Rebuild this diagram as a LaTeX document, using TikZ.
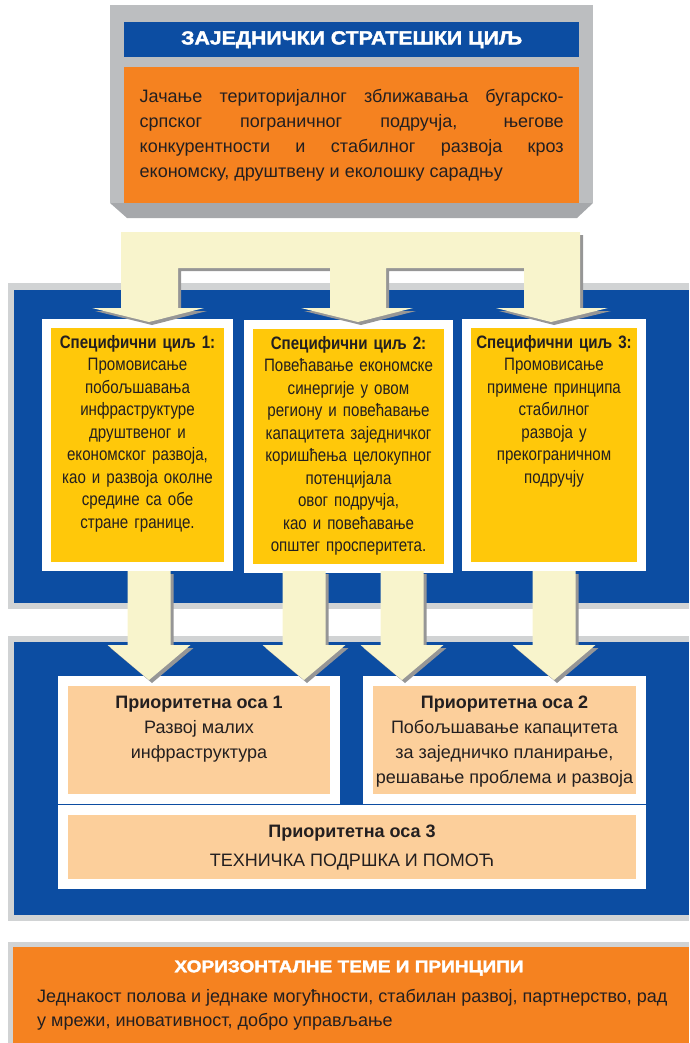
\documentclass[tikz,border=0pt]{standalone}
\usepackage{fontspec}
\setmainfont{Liberation Sans}
\newfontfamily\narrowfont{Liberation Sans}[FakeStretch=0.84]
\newfontfamily\heavyfont{Liberation Sans Bold}[FakeStretch=1.12,FakeBold=2]
\usetikzlibrary{positioning}

\definecolor{planblue}{RGB}{12,77,162}
\definecolor{planorange}{RGB}{245,130,32}
\definecolor{framegray}{RGB}{188,190,192}
\definecolor{bevelgray}{RGB}{166,168,171}
\definecolor{bordergray}{RGB}{209,211,212}
\definecolor{goalyellow}{RGB}{255,200,10}
\definecolor{peach}{RGB}{252,207,155}
\definecolor{arrowcream}{RGB}{248,244,204}
\definecolor{arrowshade}{RGB}{150,150,150}
\definecolor{inkdark}{RGB}{35,31,32}

\tikzset{
  goal/.style={fill=goalyellow, draw=white, line width=9pt, inner sep=0, outer sep=0},
  goaltext/.style={align=center, inner sep=0, text=inkdark,
    font=\narrowfont\fontsize{18}{22.5}\selectfont},
  priority/.style={fill=peach, draw=white, line width=10pt, inner sep=0, outer sep=0},
  prioritytext/.style={align=center, inner sep=0, text=inkdark,
    font=\fontsize{18}{25}\selectfont},
}

\begin{document}
\begin{tikzpicture}[x=1pt,y=1pt]
\useasboundingbox (0,0) rectangle (689,-1043);

% common strategic goal
\fill[framegray] (110,-5) rectangle (593,-203);
\fill[bevelgray] (110,-203) -- (593,-203) -- (577,-218) -- (127,-218) -- cycle;
\node[fill=planblue, minimum width=455, minimum height=35, inner sep=0, anchor=north west, text=white] (head) at (124,-22) {\heavyfont\fontsize{19}{20}\selectfont ЗАЈЕДНИЧКИ СТРАТЕШКИ ЦИЉ};
\node[fill=planorange, minimum width=455, minimum height=136, inner sep=0, anchor=north west, text=inkdark, text width=424, align=justify, font=\fontsize{18}{25}\selectfont] (aim) at (124,-67) {Јачање територијалног зближавања бугарско-\linebreak српског пограничног подручја, његове\linebreak конкурентности и стабилног развоја кроз\linebreak економску, друштвену и еколошку сарадњу\par};

% panels
\fill[bordergray] (8,-283) rectangle (689,-609);
\fill[planblue] (14,-290) rectangle (689,-603);
\fill[bordergray] (8,-636) rectangle (689,-921);
\fill[planblue] (14,-642) rectangle (689,-915);
\fill[bordergray] (8,-942) rectangle (689,-1043);
\fill[planorange] (13,-947) rectangle (689,-1043);

% specific goals
\node[goal, minimum width=182, minimum height=243] (g1) at (137.5,-445) {};
\node[goal, minimum width=200, minimum height=244] (g2) at (348.5,-446.5) {};
\node[goal, minimum width=175, minimum height=243] (g3) at (554,-445) {};

\node[goaltext, text width=171, below=11.5pt of g1.north] (g1t) {\textbf{Специфични циљ 1:}\\Промовисање\\побољшавања\\инфраструктуре\\друштвеног и\\економског развоја,\\као и развоја околне\\средине са обе\\стране границе.};
\node[goaltext, text width=189, below=11.5pt of g2.north] (g2t) {\textbf{Специфични циљ 2:}\\Повећавање економске\\синергије у овом\\региону и повећавање\\капацитета заједничког\\коришћења целокупног\\потенцијала\\овог подручја,\\као и повећавање\\општег просперитета.};
\node[goaltext, text width=166, below=11.5pt of g3.north] (g3t) {\textbf{Специфични циљ 3:}\\Промовисање\\примене принципа\\стабилног\\развоја у\\прекограничном\\подручју};

% branching arrow
\foreach \s/\c in {3/arrowshade, 0/arrowcream}
  \fill[\c, shift={(\s,-\s)}] (121,-232) -- (580,-232) -- (580,-308) -- (608,-308) -- (551,-322) -- (496,-308)
    -- (524,-308) -- (524,-268) -- (386,-268) -- (386,-308) -- (413,-308) -- (358,-322) -- (301,-308)
    -- (330,-308) -- (330,-268) -- (178,-268) -- (178,-308) -- (204,-308) -- (149,-322) -- (92,-308)
    -- (121,-308) -- cycle;

% priority axes
\node[priority, minimum width=272, minimum height=118] (pa1) at (199,-740) {};
\node[priority, minimum width=273, minimum height=118] (pa2) at (504.5,-740) {};
\node[priority, minimum width=578, minimum height=74] (pa3) at (352,-847) {};

\node[prioritytext, below=15pt of pa1.north] (pa1t) {\textbf{Приоритетна оса 1}\\Развој малих\\инфраструктура};
\node[prioritytext, below=15pt of pa2.north] (pa2t) {\textbf{Приоритетна оса 2}\\Побољшавање капацитета\\за заједничко планирање,\\решавање проблема и развоја};
\node[prioritytext, font=\fontsize{18}{29}\selectfont] (pa3t) at (pa3) {\textbf{Приоритетна оса 3}\\ТЕХНИЧКА ПОДРШКА И ПОМОЋ};

% arrows to priority axes
\foreach \t in {149,304,402,554}
  \foreach \s/\c in {3/arrowshade, 0/arrowcream}
    \fill[\c, shift={(\s,-\s)}] (\t-21.5,-571) -- (\t+21.5,-571) -- (\t+21.5,-645) -- (\t+41.5,-645)
      -- (\t,-680) -- (\t-41.5,-645) -- (\t-21.5,-645) -- cycle;

% horizontal themes
\node[text=white, inner sep=0, font=\heavyfont\fontsize{17}{20}\selectfont] (hz) at (349,-968) {ХОРИЗОНТАЛНЕ ТЕМЕ И ПРИНЦИПИ};
\node[anchor=north west, inner sep=0, text=inkdark, align=left, font=\fontsize{18}{24}\selectfont] (hzt) at (37,-989) {Једнакост полова и једнаке могућности, стабилан развој, партнерство, рад\\у мрежи, иновативност, добро управљање};
\end{tikzpicture}
\end{document}
